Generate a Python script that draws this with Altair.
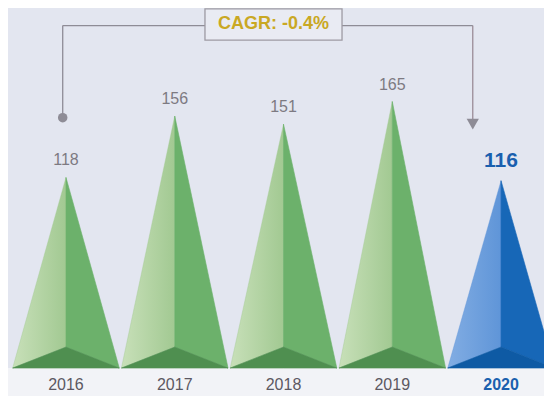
import altair as alt
import pandas as pd

years = ["2016", "2017", "2018", "2019", "2020"]
values = [118, 156, 151, 165, 116]
highlight = [False, False, False, False, True]
cagr_text = "CAGR: -0.4%"

HALF = 0.49      # half base width (in category units)
INNER = 13       # height of inner front vertex (value units)
X_DOM = [-0.533, 4.395]
Y_DOM = [-17.3, 222.9]

rows = []
for i, (yr, v, hl) in enumerate(zip(years, values, highlight)):
    pal = "blue" if hl else "green"
    rows += [
        dict(key=f"{yr}-L", face=f"{pal}-L", side="L", pal=pal, x=i - HALF, y=0, y2=0),
        dict(key=f"{yr}-L", face=f"{pal}-L", side="L", pal=pal, x=i, y=v, y2=INNER),
        dict(key=f"{yr}-R", face=f"{pal}-R", side="R", pal=pal, x=i, y=v, y2=INNER),
        dict(key=f"{yr}-R", face=f"{pal}-R", side="R", pal=pal, x=i + HALF, y=0, y2=0),
        dict(key=f"{yr}-B", face=f"{pal}-B", side="B", pal=pal, x=i - HALF, y=0, y2=0),
        dict(key=f"{yr}-B", face=f"{pal}-B", side="B", pal=pal, x=i, y=INNER, y2=0),
        dict(key=f"{yr}-B", face=f"{pal}-B", side="B", pal=pal, x=i + HALF, y=0, y2=0),
    ]
faces = pd.DataFrame(rows)

labels = pd.DataFrame({"x": list(range(len(years))), "year": years,
                       "value": values, "hl": highlight, "ylab": [-10.5] * len(years)})

xs = alt.Scale(domain=X_DOM, nice=False, zero=False)
ys = alt.Scale(domain=Y_DOM, nice=False, zero=False)
def X(f): return alt.X(f, type="quantitative", scale=xs, axis=None)
def Y(f, **kw): return alt.Y(f, type="quantitative", scale=ys, axis=None, **kw)

face_dom = ["green-R", "green-B", "blue-R", "blue-B"]
face_rng = ["#6cb16b", "#4f8f50", "#1767b7", "#0e5aa4"]

lower_bg = alt.Chart(pd.DataFrame({"x": [X_DOM[0]], "x2": [X_DOM[1]], "y": [0], "y2": [Y_DOM[0]]})
                     ).mark_rect(color="#f2f3f7").encode(x=X("x"), x2="x2", y=Y("y"), y2="y2")

fbase = alt.Chart(faces)
solid = fbase.transform_filter("datum.side != 'L'").mark_area(
    strokeWidth=0.6, interpolate="linear", orient="vertical").encode(
    x=X("x"), y=Y("y", stack=None), y2="y2",
    color=alt.Color("face:N", scale=alt.Scale(domain=face_dom, range=face_rng), legend=None),
    stroke=alt.Stroke("face:N", scale=alt.Scale(domain=face_dom, range=face_rng), legend=None),
    detail="key:N")

def left_face(pal, c0, c1):
    grad = alt.Gradient(gradient="linear", x1=0, y1=0.5, x2=1, y2=0.5,
                        stops=[alt.GradientStop(color=c0, offset=0),
                               alt.GradientStop(color=c1, offset=1)])
    return fbase.transform_filter(f"datum.side == 'L' && datum.pal == '{pal}'").mark_area(
        interpolate="linear", orient="vertical", color=grad, stroke=c1, strokeWidth=0.4).encode(
        x=X("x"), y=Y("y", stack=None), y2="y2", detail="key:N")

left_g = left_face("green", "#c8e0b9", "#a2c992")
left_b = left_face("blue", "#82ade3", "#5f95d8")

lab = alt.Chart(labels)
val_norm = lab.transform_filter("!datum.hl").mark_text(
    font="Liberation Sans", fontSize=16, color="#7d7a82", dy=-17, baseline="middle").encode(
    x=X("x"), y=Y("value"), text="value:Q")
val_hl = lab.transform_filter("datum.hl").mark_text(
    font="Liberation Sans", fontSize=21, fontWeight="bold", color="#1a5fae", dy=-20,
    baseline="middle").encode(x=X("x"), y=Y("value"), text="value:Q")
yr_norm = lab.transform_filter("!datum.hl").mark_text(
    font="Liberation Sans", fontSize=16, color="#5c5862", baseline="middle").encode(
    x=X("x"), y=Y("ylab"), text="year:N")
yr_hl = lab.transform_filter("datum.hl").mark_text(
    font="Liberation Sans", fontSize=16, fontWeight="bold", color="#1a5fae",
    baseline="middle").encode(x=X("x"), y=Y("ylab"), text="year:N")

# CAGR bracket
BX0, BX1 = -0.03, 3.74
BY_TOP, BY_BOT_L, BY_BOT_R = 212, 155, 153
line_col = "#8e8c96"
segs = pd.DataFrame({
    "x": [BX0, BX1, BX0], "x2": [BX0, BX1, BX1],
    "y": [BY_BOT_L, BY_BOT_R, BY_TOP], "y2": [BY_TOP, BY_TOP, BY_TOP],
    "c": ["a", "b", "a"]})
rules = alt.Chart(segs).mark_rule(strokeWidth=1.3).encode(
    x=X("x"), x2="x2", y=Y("y"), y2="y2",
    color=alt.Color("c:N", scale=alt.Scale(domain=["a", "b"], range=[line_col, "#9c8c98"]),
                    legend=None))
dot = alt.Chart(pd.DataFrame({"x": [BX0], "y": [BY_BOT_L]})).mark_point(
    filled=True, color=line_col, size=90, opacity=1).encode(x=X("x"), y=Y("y"))
arrow = alt.Chart(pd.DataFrame({"x": [BX1], "y": [BY_BOT_R - 2]})).mark_point(
    filled=True, shape="triangle-down", color=line_col, size=150, opacity=1).encode(
    x=X("x"), y=Y("y"))
box = alt.Chart(pd.DataFrame({"x": [1.278], "x2": [2.538], "y": [222.3], "y2": [203.0]})).mark_rect(
    fill="#e9ebf3", stroke="#9d9aa3", strokeWidth=1.3).encode(x=X("x"), x2="x2", y=Y("y"), y2="y2")
box_txt = alt.Chart(pd.DataFrame({"x": [1.908], "y": [212.8], "t": [cagr_text]})).mark_text(
    font="Liberation Sans", fontSize=18, fontWeight="bold", color="#c9a823",
    baseline="middle").encode(x=X("x"), y=Y("y"), text="t:N")

chart = alt.layer(lower_bg, left_g, left_b, solid, val_norm, val_hl, yr_norm, yr_hl,
                  rules, dot, arrow, box, box_txt).resolve_scale(color="independent").properties(
    width=536, height=388,
    autosize=alt.AutoSizeParams(type="none"),
    padding=0, background="#e3e6f0").configure_view(stroke=None)

chart.save("out.html", embed_options={"renderer": "svg", "actions": False})
